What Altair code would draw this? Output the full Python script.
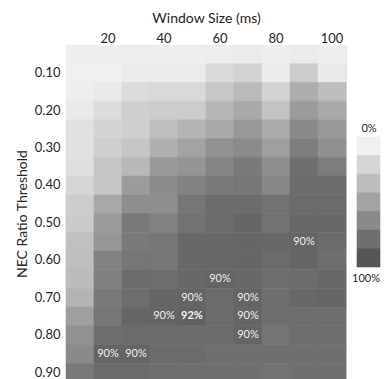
import altair as alt
import pandas as pd

# ---------------- data ----------------
window_sizes = [10, 20, 30, 40, 50, 60, 70, 80, 90, 100]
thresholds = ["0.05", "0.10", "0.15", "0.20", "0.25", "0.30", "0.35", "0.40", "0.45",
              "0.50", "0.55", "0.60", "0.65", "0.70", "0.75", "0.80", "0.85", "0.90"]
# accuracy (%) per threshold row, one value per window size
accuracy_pct = [
    [1, 1, 2, 1, 1, 2, 3, 1, 3, 1],
    [0, 0, 3, 3, 3, 15, 19, 3, 23, 4],
    [1, 4, 13, 15, 15, 26, 34, 19, 43, 33],
    [4, 12, 21, 23, 23, 37, 46, 29, 55, 46],
    [10, 18, 21, 32, 39, 46, 57, 45, 66, 57],
    [10, 21, 27, 41, 50, 61, 65, 52, 74, 62],
    [11, 28, 36, 56, 59, 70, 76, 63, 83, 74],
    [17, 27, 54, 65, 71, 77, 79, 68, 85, 85],
    [23, 46, 63, 63, 79, 85, 85, 81, 86, 86],
    [24, 54, 77, 71, 81, 86, 89, 81, 88, 88],
    [31, 58, 76, 78, 88, 88, 89, 88, 90, 86],
    [32, 71, 79, 79, 88, 88, 89, 86, 89, 84],
    [34, 72, 85, 84, 88, 90, 88, 84, 85, 88],
    [39, 77, 84, 89, 90, 86, 90, 83, 88, 89],
    [52, 79, 89, 90, 92, 85, 90, 84, 84, 84],
    [61, 84, 86, 86, 86, 85, 90, 80, 84, 84],
    [66, 90, 90, 85, 85, 83, 83, 83, 83, 83],
    [77, 86, 86, 84, 83, 83, 83, 81, 83, 83],
]
x_tick_values = [20, 40, 60, 80, 100]
y_tick_values = ["0.10", "0.20", "0.30", "0.40", "0.50", "0.60", "0.70", "0.80", "0.90"]
legend_levels = [0, 100 / 6, 200 / 6, 50, 400 / 6, 500 / 6, 100]
legend_top_label = "0%"
legend_bottom_label = "100%"

rows = []
for t, vals in zip(thresholds, accuracy_pct):
    for w, v in zip(window_sizes, vals):
        rows.append({"window": w, "threshold": t, "value": v})
df = pd.DataFrame(rows)
legend_df = pd.DataFrame({"level": list(range(len(legend_levels))), "value": legend_levels})

# ---------------- style ----------------
FONT = "Lato"
TEXT = "#262626"
W, H = 280, 337

color_scale = alt.Scale(domain=[0, 100], range=["#f0f0f0", "#555555"], interpolate="rgb")

base = alt.Chart(df)

x_enc = alt.X(
    "window:O",
    scale=alt.Scale(domain=window_sizes, paddingInner=0, paddingOuter=0),
    axis=alt.Axis(orient="top", values=x_tick_values, title="Window Size (ms)", labelAngle=0,
                  domain=False, ticks=False, tickSize=0, labelPadding=0, titlePadding=7,
                  labelFontSize=13, titleFontSize=14, titleFontWeight="normal",
                  labelFont=FONT, titleFont=FONT, labelColor=TEXT, titleColor=TEXT),
)
y_enc = alt.Y(
    "threshold:O",
    scale=alt.Scale(domain=thresholds, paddingInner=0, paddingOuter=0),
    axis=alt.Axis(values=y_tick_values, title="NEC Ratio Threshold",
                  domain=False, ticks=False, tickSize=0, labelPadding=6, titlePadding=5,
                  labelFontSize=13, titleFontSize=14, titleFontWeight="normal",
                  labelFont=FONT, titleFont=FONT, labelColor=TEXT, titleColor=TEXT),
)

heat = base.mark_rect(strokeWidth=0.6).encode(
    x=x_enc,
    y=y_enc,
    color=alt.Color("value:Q", scale=color_scale, legend=None),
    stroke=alt.Color("value:Q", scale=color_scale, legend=None),
)

labelled = base.transform_joinaggregate(maxv="max(value)").transform_calculate(
    label="datum.value + '%'"
)
labels = labelled.transform_filter("datum.value >= 90 && datum.value < datum.maxv").mark_text(
    font=FONT, fontSize=11, color="#eeeeee"
).encode(x="window:O", y="threshold:O", text="label:N")
best = labelled.transform_filter("datum.value == datum.maxv").mark_text(
    font=FONT, fontSize=11, fontWeight="bold", color="#f4f4f4"
).encode(x="window:O", y="threshold:O", text="label:N")

main = alt.layer(heat, labels, best)

legend_rects = alt.Chart(legend_df).mark_rect(strokeWidth=0.6).encode(
    x=alt.value(291),
    x2=alt.value(314),
    y=alt.Y("level:O", scale=alt.Scale(range=[92, 222], paddingInner=0, paddingOuter=0), axis=None),
    color=alt.Color("value:Q", scale=color_scale, legend=None),
    stroke=alt.Color("value:Q", scale=color_scale, legend=None),
)
legend_top = alt.Chart(alt.Data(values=[{}])).mark_text(
    font=FONT, fontSize=11, color=TEXT, baseline="middle", align="center"
).encode(x=alt.value(303), y=alt.value(84), text=alt.value(legend_top_label))
legend_bottom = alt.Chart(alt.Data(values=[{}])).mark_text(
    font=FONT, fontSize=11, color=TEXT, baseline="middle", align="center"
).encode(x=alt.value(300), y=alt.value(234), text=alt.value(legend_bottom_label))

chart = (
    alt.layer(main, legend_rects, legend_top, legend_bottom)
    .resolve_scale(y="independent")
    .properties(width=W, height=H, padding={"left": 7, "top": 3, "right": 0, "bottom": 0})
    .configure_view(stroke=None)
    .configure(background="white")
)

chart.save("out.html", embed_options={"renderer": "svg", "actions": False})
